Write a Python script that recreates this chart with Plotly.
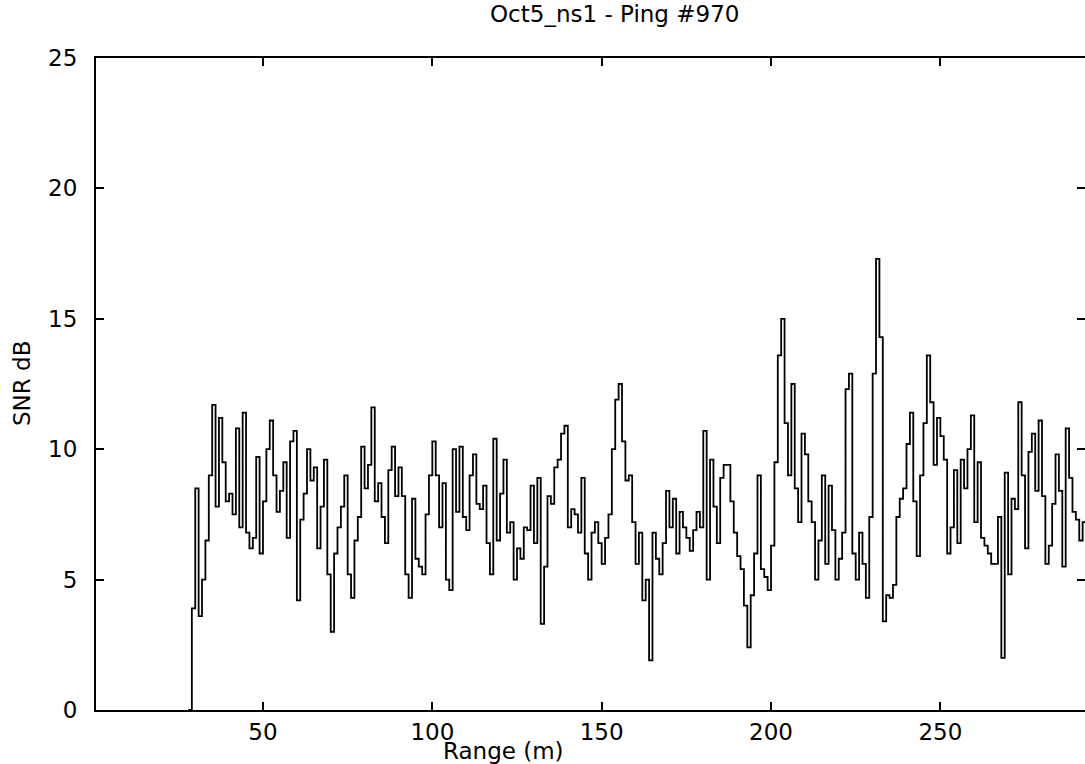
"""SNR vs range for one sonar ping (Oct5_ns1, ping 970)."""

import plotly.graph_objects as go

# range bins (m), one per metre
range_m = list(range(28, 294))

# SNR in dB, 10 bins per row starting at 28 m
snr_db = [
    0.0, 3.9, 8.5, 3.6, 5.0, 6.5, 9.0, 11.7, 7.8, 11.2,
    9.5, 8.0, 8.3, 7.5, 10.8, 7.0, 11.4, 6.8, 6.2, 6.6,
    9.7, 6.0, 8.0, 10.0, 11.1, 9.0, 7.6, 8.4, 9.5, 6.6,
    10.3, 10.7, 4.2, 7.3, 8.3, 10.0, 8.8, 9.3, 6.2, 7.8,
    9.6, 5.2, 3.0, 6.0, 7.0, 7.8, 9.0, 5.2, 4.3, 6.5,
    7.4, 10.1, 8.5, 9.4, 11.6, 8.0, 8.7, 7.4, 6.4, 9.2,
    10.1, 8.2, 9.3, 8.2, 5.2, 4.3, 8.1, 5.8, 5.5, 5.2,
    7.5, 9.0, 10.3, 9.0, 7.0, 8.7, 5.0, 4.6, 10.0, 7.6,
    10.1, 7.4, 6.9, 9.0, 9.8, 7.9, 7.7, 8.6, 6.4, 5.2,
    10.4, 6.5, 8.3, 9.6, 6.8, 7.2, 5.0, 6.2, 5.8, 7.0,
    6.9, 8.6, 6.4, 8.9, 3.3, 5.5, 8.2, 7.9, 9.3, 9.6,
    10.6, 10.9, 7.0, 7.7, 7.5, 6.8, 8.9, 6.0, 5.0, 6.8,
    7.2, 6.4, 5.6, 6.6, 7.5, 10.0, 11.9, 12.5, 10.3, 8.8,
    9.0, 7.2, 5.6, 6.8, 4.2, 5.0, 1.9, 6.8, 5.8, 5.2,
    6.4, 8.4, 7.0, 8.1, 6.0, 7.6, 7.0, 6.6, 6.1, 6.9,
    7.6, 7.0, 10.7, 5.0, 9.6, 7.8, 6.4, 8.9, 9.4, 9.4,
    8.0, 6.8, 5.9, 5.4, 4.0, 2.4, 4.4, 6.0, 9.0, 5.4,
    5.1, 4.6, 6.3, 9.5, 13.6, 15.0, 11.0, 9.0, 12.5, 8.5,
    7.2, 10.6, 9.8, 8.0, 7.2, 5.0, 6.5, 9.0, 5.6, 8.6,
    6.9, 5.0, 5.8, 6.8, 12.3, 12.9, 6.0, 5.0, 6.8, 5.6,
    4.3, 7.4, 12.9, 17.3, 14.3, 3.4, 4.4, 4.3, 4.8, 7.4,
    8.1, 8.5, 10.2, 11.4, 8.0, 5.9, 9.0, 11.0, 13.6, 11.8,
    9.4, 11.2, 10.5, 9.6, 6.0, 7.0, 9.2, 6.4, 9.6, 8.5,
    10.0, 11.3, 7.2, 9.5, 6.6, 6.3, 6.0, 5.6, 5.6, 7.4,
    2.0, 9.1, 5.2, 8.1, 7.7, 11.8, 9.0, 6.2, 9.9, 10.6,
    8.4, 11.1, 8.2, 5.6, 6.3, 7.9, 9.8, 8.4, 5.5, 10.8,
    8.9, 7.6, 7.3, 6.5, 7.2, 6.8,
]

x_ticks = [50, 100, 150, 200, 250]
y_ticks = [0, 5, 10, 15, 20, 25]

FONT = "DejaVu Sans, Arial, sans-serif"
FSIZE = 23

fig = go.Figure()
fig.add_trace(go.Scatter(
    x=range_m, y=snr_db, mode="lines",
    line=dict(color="black", width=1.8, shape="hv"),
    showlegend=False,
))

axis_style = dict(
    showgrid=False, zeroline=False,
    showline=True, linecolor="black", linewidth=2, mirror="ticks",
    ticks="inside", ticklen=8, tickwidth=2, tickcolor="black",
    tickfont=dict(family=FONT, size=FSIZE, color="black"),
    automargin=False,
)

fig.update_xaxes(range=[0.7, 292.7], tickvals=x_ticks,
                 ticklabelstandoff=0, **axis_style)
fig.update_yaxes(range=[0, 25], tickvals=y_ticks,
                 ticklabelstandoff=12, **axis_style)

# titles placed as in the original figure (plot area 96..1085 x 58..710 px)
fig.add_annotation(text="Oct5_ns1 - Ping #970", xref="paper", yref="paper",
                   x=(614 - 96) / 989, y=1 + (58 - 14) / 652,
                   yanchor="middle", showarrow=False,
                   font=dict(family=FONT, size=FSIZE, color="black"))
fig.add_annotation(text="Range (m)", xref="paper", yref="paper",
                   x=(503 - 96) / 989, y=-(751 - 710) / 652,
                   yanchor="middle", showarrow=False,
                   font=dict(family=FONT, size=FSIZE, color="black"))
fig.add_annotation(text="SNR dB", xref="paper", yref="paper",
                   x=-(96 - 22) / 989, y=0.5, textangle=-90,
                   xanchor="center", showarrow=False,
                   font=dict(family=FONT, size=FSIZE, color="black"))

fig.update_layout(
    width=1085, height=764,
    margin=dict(l=96, r=0, t=58, b=54),
    paper_bgcolor="white", plot_bgcolor="white",
)

# drop the default page margin so the figure sits at the window's corner
fig.write_html("out.html", config={"displayModeBar": False},
               post_script="document.body.style.margin='0';"
                           "document.body.style.overflow='hidden';")
